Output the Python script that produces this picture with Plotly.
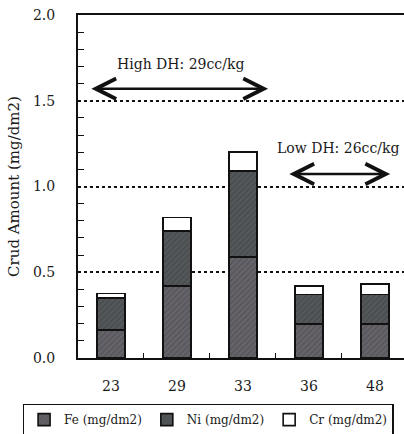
import plotly.graph_objects as go

categories = ["23", "29", "33", "36", "48"]
fe = [0.165, 0.42, 0.59, 0.20, 0.20]
ni = [0.185, 0.32, 0.50, 0.17, 0.17]
cr = [0.025, 0.08, 0.11, 0.05, 0.06]
series_names = ["Fe (mg/dm2)", "Ni (mg/dm2)", "Cr (mg/dm2)"]
ref_lines = [0.5, 1.0, 1.5]

FONT = "DejaVu Serif"
fig = go.Figure()
styles = [
    dict(color="#5c5a60", pattern=dict(shape="/", fgcolor="#3e3e42", bgcolor="#66646a", size=4, solidity=0.3)),
    dict(color="#4c5052", pattern=dict(shape="/", fgcolor="#35393a", bgcolor="#54585a", size=4, solidity=0.3)),
    dict(color="#ffffff"),
]
for name, vals, st in zip(series_names, [fe, ni, cr], styles):
    fig.add_trace(go.Bar(
        x=categories, y=vals, name=name, width=0.42,
        marker=dict(**st, line=dict(color="#111111", width=1.6)),
    ))

fig.update_layout(
    barmode="stack",
    width=404, height=434,
    margin=dict(l=78, r=0, t=15, b=76, autoexpand=False),
    plot_bgcolor="white", paper_bgcolor="white",
    font=dict(family=FONT, size=14, color="#1a1a1a"),
    showlegend=True,
    legend=dict(orientation="h", x=-0.17, y=-0.133, xanchor="left", yanchor="top",
                traceorder="normal",
                bordercolor="#111111", borderwidth=1.5, font=dict(size=12),
                itemwidth=30, tracegroupgap=0),
    xaxis=dict(range=[-0.5, 4.44], showline=True, linecolor="#111111", linewidth=2,
               mirror=True, ticks="inside", tickson="boundaries", ticklen=5,
               tickcolor="#111111", showgrid=False, ticklabelstandoff=14,
               automargin=False, tickfont=dict(size=14)),
    yaxis=dict(range=[0, 2.0], dtick=0.5, tickformat=".1f", showline=True,
               linecolor="#111111", linewidth=2, ticks="", showgrid=True,
               gridcolor="#111111", griddash="dot", gridwidth=2, zeroline=False,
               ticklabelstandoff=18, automargin=False, tickfont=dict(size=14),
               minor=dict(dtick=0.1, ticks="inside", ticklen=6, tickcolor="#111111", showgrid=False),
               title=dict(text="Crud Amount (mg/dm2)", standoff=10, font=dict(size=15))),
)

anns = [
    dict(text="High DH: 29cc/kg", x=1.06, y=1.715),
    dict(text="Low DH: 26cc/kg", x=3.44, y=1.225),
]
for a in anns:
    fig.add_annotation(x=a["x"], y=a["y"], text=a["text"], showarrow=False,
                       font=dict(size=14, family=FONT), xref="x", yref="y")

arrows = [(-0.32, 2.38, 1.57), (2.68, 4.23, 1.073)]
for x0, x1, yv in arrows:
    fig.add_annotation(x=x1, y=yv, ax=x0, ay=yv, xref="x", yref="y", axref="x", ayref="y",
                       text="", showarrow=True, arrowhead=5, startarrowhead=5,
                       arrowside="end+start", arrowwidth=2.5, arrowsize=1.6,
                       startarrowsize=1.6, arrowcolor="#111111")

fig.write_html("out.html", config={"displayModeBar": False},
               post_script="document.body.style.margin='0';document.body.style.overflow='hidden';")
